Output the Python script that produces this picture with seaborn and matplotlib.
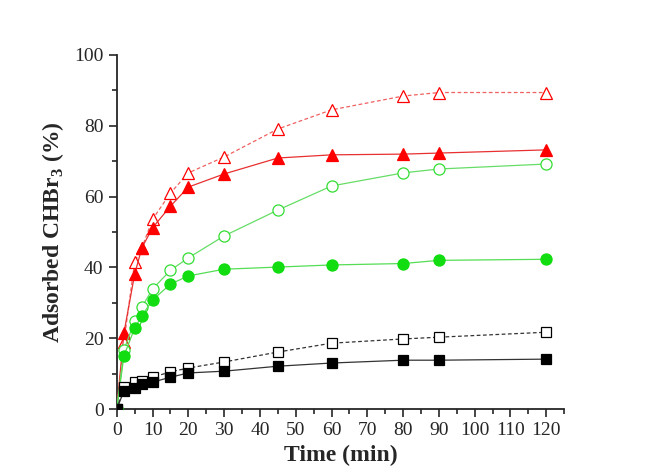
# Adsorbed CHBr3 vs time, six series, seaborn line plots
import pandas as pd
import seaborn as sns
import matplotlib
matplotlib.use("Agg")
import matplotlib.pyplot as plt
from matplotlib.ticker import MultipleLocator

sns.set_style("ticks")
plt.rcParams['font.family'] = ['Liberation Serif', 'DejaVu Serif']
plt.rcParams['mathtext.fontset'] = 'custom'
plt.rcParams['mathtext.rm'] = 'Liberation Serif'
plt.rcParams['mathtext.bf'] = 'Liberation Serif:bold'

# data
time_min = [0, 2, 5, 7, 10, 15, 20, 30, 45, 60, 80, 90, 120]
tri_open = [0, 19.0, 41.5, 45.5, 53.6, 61.0, 66.7, 71.2, 79.1, 84.5, 88.4, 89.4, 89.4]
tri_filled = [0, 21.5, 38.1, 45.5, 51.2, 57.3, 62.7, 66.4, 70.9, 71.8, 72.0, 72.3, 73.2]
circ_open = [0, 16.7, 24.9, 28.8, 33.9, 39.2, 42.7, 48.9, 56.2, 63.0, 66.7, 67.8, 69.2]
circ_filled = [0, 15.0, 22.9, 26.3, 30.8, 35.3, 37.6, 39.5, 40.1, 40.7, 41.1, 42.0, 42.3]
sq_open = [0, 6.2, 7.6, 7.9, 9.0, 10.5, 11.6, 13.3, 16.1, 18.6, 19.8, 20.3, 21.7]
sq_filled = [0, 5.1, 5.9, 7.1, 7.6, 9.0, 10.2, 10.7, 12.1, 13.0, 13.8, 13.8, 14.1]

series = [
    # values, marker, line colour, marker face, marker edge, dashed
    (tri_open, '^', '#f06060', 'white', 'red', True),
    (tri_filled, '^', '#e83030', 'red', 'red', False),
    (circ_open, 'o', '#66dd66', 'white', '#33dd33', False),
    (circ_filled, 'o', '#55dd55', '#11dd11', '#11dd11', False),
    (sq_open, 's', '#333333', 'white', 'black', True),
    (sq_filled, 's', '#333333', 'black', 'black', False),
]

fig = plt.figure(figsize=(6.56, 4.74), dpi=100)
ax = fig.add_axes([0.178, 0.137, 0.682, 0.747])

for vals, mk, lc, mf, me, dashed in series:
    df = pd.DataFrame({'Time': time_min, 'Adsorbed': vals})
    sns.lineplot(data=df, x='Time', y='Adsorbed', ax=ax, color=lc,
                 linewidth=0.9, linestyle=(0, (3, 2)) if dashed else '-',
                 marker=mk, markersize=8 if mk != 's' else 6.5,
                 markerfacecolor=mf, markeredgecolor=me, markeredgewidth=0.9,
                 zorder=3)

ax.set_xlim(0, 125)
ax.set_ylim(0, 100)
ax.xaxis.set_major_locator(MultipleLocator(10))
ax.xaxis.set_minor_locator(MultipleLocator(5))
ax.yaxis.set_major_locator(MultipleLocator(20))
ax.yaxis.set_minor_locator(MultipleLocator(10))
ax.set_xticks(range(0, 121, 10))
ax.tick_params(which='major', direction='out', length=6, width=1.2, labelsize=14)
ax.tick_params(which='minor', direction='out', length=3.5, width=1.2)
sns.despine(ax=ax)
for s in ['left', 'bottom']:
    ax.spines[s].set_linewidth(1.3)

ax.set_xlabel('Time (min)', fontsize=17, fontweight='bold')
ax.set_ylabel(r'Adsorbed CHBr$_\mathbf{3}$ (%)', fontsize=17, fontweight='bold', labelpad=6)

plt.savefig('out.png', dpi=100)
